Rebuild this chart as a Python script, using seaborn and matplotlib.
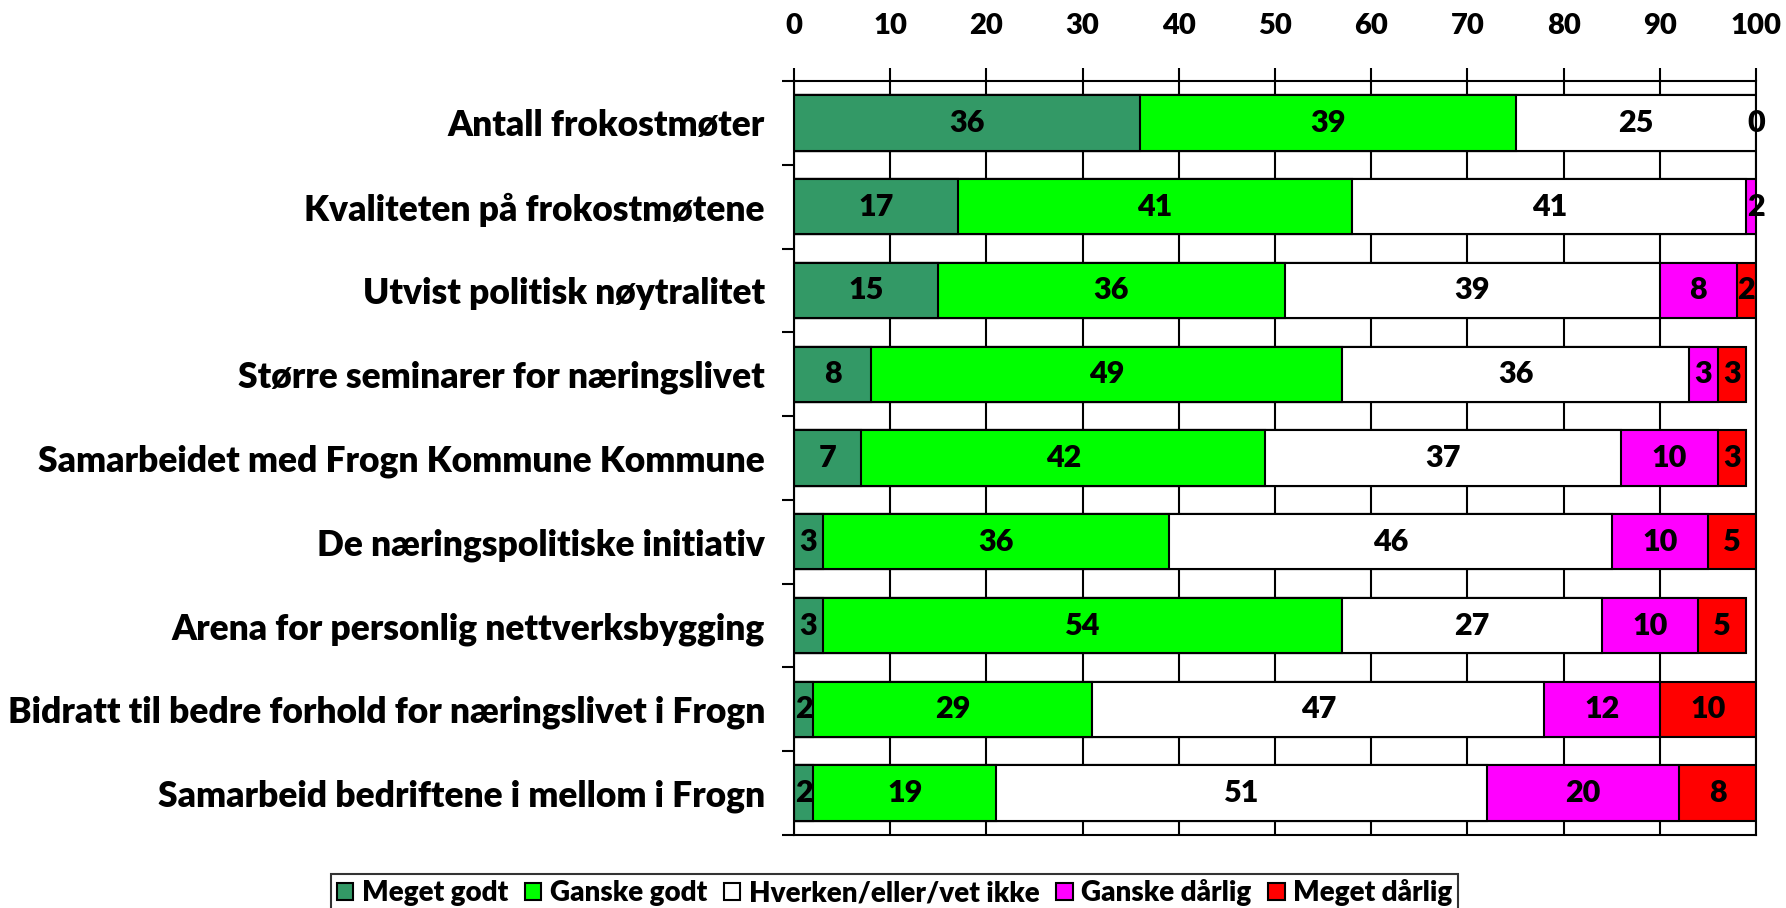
import numpy as np
import matplotlib
matplotlib.use("Agg")
import matplotlib.pyplot as plt
from matplotlib.patches import Patch
import seaborn as sns

# Survey answers (percent), one list per answer option
categories = [
    "Antall frokostmøter",
    "Kvaliteten på frokostmøtene",
    "Utvist politisk nøytralitet",
    "Større seminarer for næringslivet",
    "Samarbeidet med Frogn Kommune Kommune",
    "De næringspolitiske initiativ",
    "Arena for personlig nettverksbygging",
    "Bidratt til bedre forhold for næringslivet i Frogn",
    "Samarbeid bedriftene i mellom i Frogn",
]
series_names = ["Meget godt", "Ganske godt", "Hverken/eller/vet ikke",
                "Ganske dårlig", "Meget dårlig"]
meget_godt = [36, 17, 15, 8, 7, 3, 3, 2, 2]
ganske_godt = [39, 41, 36, 49, 42, 36, 54, 29, 19]
hverken = [25, 41, 39, 36, 37, 46, 27, 47, 51]
ganske_darlig = [0, 2, 8, 3, 10, 10, 10, 12, 20]
meget_darlig = [np.nan, np.nan, 2, 3, 3, 5, 5, 10, 8]
colors = ["#339966", "#00FF00", "#FFFFFF", "#FF00FF", "#FF0000"]

sns.set_style("white")
plt.rcParams["font.family"] = ["Lato", "DejaVu Sans"]
for k in ["text.color", "axes.labelcolor", "xtick.color", "ytick.color"]:
    plt.rcParams[k] = "black"
W = "heavy"

values = np.array([meget_godt, ganske_godt, hverken, ganske_darlig, meget_darlig], dtype=float).T
cum = np.cumsum(np.nan_to_num(values), axis=1)

fig = plt.figure(figsize=(17.86, 9.08), dpi=100)
ax = fig.add_axes([0.4446, 0.0804, 0.9832 - 0.4446, 0.9108 - 0.0804])

# stacked bars: draw cumulative totals from the last series backwards
for i in reversed(range(len(series_names))):
    sns.barplot(x=cum[:, i], y=categories, orient="h", color=colors[i],
                saturation=1, edgecolor="black", linewidth=1.5, width=0.66, ax=ax)

# value labels in the middle of each segment
for j in range(len(categories)):
    for i in range(len(series_names)):
        v = values[j, i]
        if np.isnan(v):
            continue
        ax.text(cum[j, i] - v / 2, j, f"{int(v)}", ha="center", va="center",
                fontsize=22, fontweight=W, color="black")

ax.set_xlim(0, 100)
ax.set_xticks(range(0, 101, 10))
ax.xaxis.tick_top()
ax.grid(axis="x", color="black", linewidth=1.5)
ax.set_axisbelow(True)
ax.set_xlabel("")
ax.set_ylabel("")
for s in ax.spines.values():
    s.set_color("black")
    s.set_linewidth(1.5)

ax.tick_params(axis="x", direction="out", length=9.5, width=1.5, pad=21,
               labelsize=21, colors="black")
ax.set_yticks(np.arange(-0.5, len(categories), 1), minor=True)
ax.tick_params(axis="y", which="minor", direction="out", length=9, width=1.5, left=True)
ax.tick_params(axis="y", which="major", length=0, pad=21, labelsize=25.5, colors="black")
for lab in ax.get_xticklabels() + ax.get_yticklabels():
    lab.set_fontweight(W)

# legend box sits at the bottom edge, as in the original
handles = [Patch(facecolor=c, edgecolor="black", linewidth=1.5) for c in colors]
leg = fig.legend(handles, series_names, loc="upper center", bbox_to_anchor=(0.5008, 0.0529),
                 ncol=5, frameon=True, fancybox=False, edgecolor="black",
                 handlelength=0.6, handleheight=0.6, handletextpad=0.3,
                 columnspacing=0.6, borderpad=0.2, prop={"size": 20, "weight": W})
leg.get_frame().set_linewidth(1.5)

fig.savefig("out.png", dpi=100)
